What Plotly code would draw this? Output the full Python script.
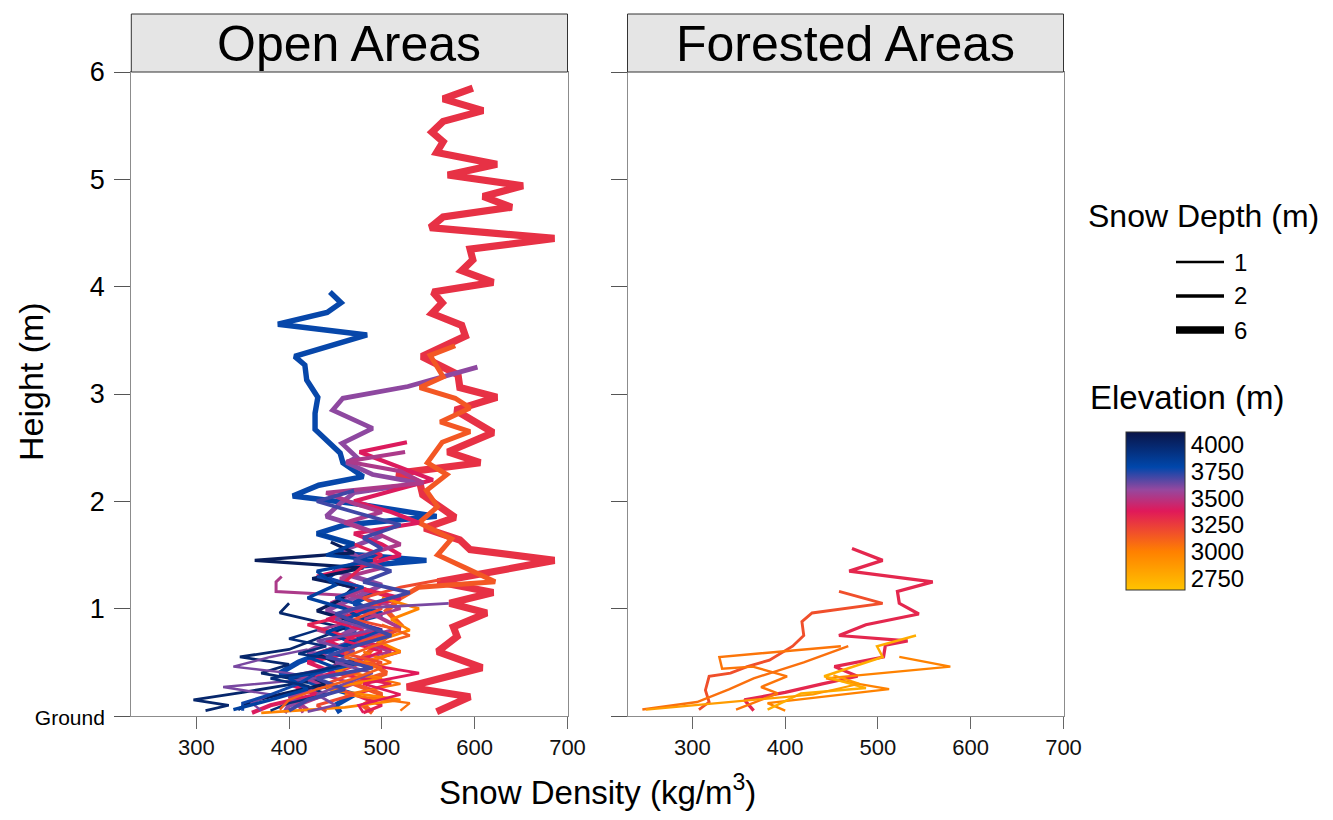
import plotly.graph_objects as go

# ---------------- data ----------------
elev_stops = [2640, 3000, 3380, 3580, 3790, 4120]
elev_colors = ['#ffc400', '#ff8000', '#e0195a', '#95489f', '#0047ab', '#0a1448']
cbar_ticks = [2750, 3000, 3250, 3500, 3750, 4000]
depth_legend = [1, 2, 6]
x_ticks = [300, 400, 500, 600, 700]
y_ticks = [0, 1, 2, 3, 4, 5, 6]
y_ticktext = ['Ground', '1', '2', '3', '4', '5', '6']

open_elevation = [3290, 3780, 3590, 3150, 3390, 3520, 4060, 4000, 3620, 3520, 3350,
                  2980, 3050, 3770, 3830, 3380, 3200, 3950, 3620, 3700, 3120]
open_depth = [5.85, 3.95, 3.25, 3.45, 2.55, 2.46, 1.62, 1.05, 0.62, 1.3, 1.6,
              1.1, 0.6, 1.3, 1.7, 1.0, 1.27, 0.8, 1.05, 2.1, 0.85]
open_height = [
    [5.85, 5.75, 5.64, 5.54, 5.44, 5.35, 5.25, 5.14, 5.04, 4.94, 4.84, 4.74, 4.65, 4.55, 4.45, 4.35, 4.25,
     4.15, 4.04, 3.95, 3.85, 3.75, 3.64, 3.54, 3.35, 3.27, 3.18, 3.06, 2.97, 2.85, 2.64, 2.46, 2.36, 2.26,
     2.17, 2.06, 1.85, 1.75, 1.64, 1.55, 1.45, 1.25, 1.15, 1.05, 0.96, 0.83, 0.74, 0.6, 0.45, 0.27, 0.18, 0.04],
    [3.95, 3.85, 3.76, 3.65, 3.55, 3.35, 3.27, 3.13, 2.97, 2.82, 2.67, 2.53, 2.45, 2.36, 2.23, 2.15, 2.05,
     1.98, 1.86, 1.78, 1.7, 1.6, 1.52, 1.45, 1.38, 1.28, 1.15, 1.05, 0.95, 0.85, 0.72, 0.6, 0.5, 0.4, 0.3,
     0.2, 0.1, 0.03],
    [3.25, 3.16, 3.07, 2.96, 2.85, 2.68, 2.54, 2.41, 2.36, 2.25, 2.17, 2.08, 1.98, 1.86, 1.78, 1.68, 1.55,
     1.45, 1.35, 1.22, 1.1, 0.98, 0.85, 0.72, 0.6, 0.5, 0.4, 0.3, 0.2, 0.1, 0.03],
    [3.45, 3.36, 3.16, 3.06, 2.96, 2.87, 2.74, 2.65, 2.55, 2.45, 2.36, 2.25, 2.1, 1.95, 1.8, 1.65, 1.5,
     1.38, 1.25, 1.2, 1.1, 0.98, 0.85, 0.7, 0.55, 0.4, 0.3, 0.2, 0.1, 0.03],
    [2.55, 2.46, 2.38, 2.28, 2.2, 2.12, 2.0, 1.9, 1.8, 1.7, 1.6, 1.5, 1.4, 1.3, 1.2, 1.1, 1.0, 0.9, 0.8,
     0.7, 0.6, 0.5, 0.4, 0.3, 0.2, 0.1, 0.03],
    [2.46, 2.37, 2.28, 2.17, 2.08, 1.98, 1.9, 1.8, 1.7, 1.6, 1.48, 1.38, 1.28, 1.18, 1.05, 0.95, 0.82, 0.7,
     0.58, 0.48, 0.38, 0.28, 0.18, 0.06],
    [1.62, 1.52, 1.45, 1.38, 1.28, 1.2, 1.08, 0.98, 0.88, 0.78, 0.68, 0.58, 0.48, 0.38, 0.3, 0.22, 0.14, 0.06],
    [1.05, 0.96, 0.9, 0.82, 0.72, 0.62, 0.55, 0.48, 0.4, 0.32, 0.22, 0.15, 0.1, 0.05],
    [0.62, 0.55, 0.46, 0.4, 0.35, 0.27, 0.2, 0.12, 0.05],
    [1.3, 1.25, 1.16, 1.12, 1.0, 0.9, 0.8, 0.7, 0.6, 0.5, 0.4, 0.3, 0.2, 0.1, 0.03],
    [1.6, 1.5, 1.4, 1.25, 1.1, 0.95, 0.85, 0.72, 0.6, 0.5, 0.4, 0.3, 0.2, 0.1, 0.03],
    [1.1, 1.0, 0.9, 0.8, 0.7, 0.6, 0.5, 0.42, 0.35, 0.25, 0.15, 0.08, 0.03],
    [0.6, 0.5, 0.4, 0.3, 0.2, 0.12, 0.05],
    [1.3, 1.2, 1.1, 1.0, 0.9, 0.8, 0.7, 0.6, 0.5, 0.4, 0.3, 0.2, 0.12, 0.05],
    [1.7, 1.6, 1.5, 1.45, 1.35, 1.22, 1.1, 1.0, 0.9, 0.78, 0.68, 0.55, 0.45, 0.35, 0.25, 0.15, 0.06],
    [1.0, 0.9, 0.8, 0.7, 0.6, 0.5, 0.4, 0.3, 0.2, 0.1, 0.03],
    [1.27, 1.2, 1.1, 1.0, 0.9, 0.8, 0.7, 0.58, 0.5, 0.4, 0.3, 0.2, 0.1, 0.04],
    [0.8, 0.72, 0.65, 0.58, 0.5, 0.42, 0.35, 0.28, 0.2, 0.12, 0.05],
    [1.05, 1.0, 0.9, 0.8, 0.7, 0.6, 0.5, 0.4, 0.3, 0.2, 0.1, 0.04],
    [2.1, 2.0, 1.9, 1.78, 1.66, 1.56, 1.45, 1.35, 1.25, 1.15, 1.05, 0.95, 0.85, 0.75, 0.65, 0.55, 0.45,
     0.35, 0.25, 0.15, 0.05],
    [0.85, 0.75, 0.65, 0.55, 0.45, 0.35, 0.25, 0.15, 0.06],
]
open_density = [
    [598, 566, 609, 566, 554, 566, 559, 624, 571, 652, 609, 640, 566, 552, 686, 595, 598,
     586, 620, 555, 565, 554, 586, 590, 543, 560, 582, 584, 624, 579, 620, 571, 606, 516,
     541, 544, 579, 546, 584, 595, 686, 560, 620, 573, 613, 577, 581, 560, 608, 527, 595, 559],
    [444, 456, 441, 388, 484, 406, 417, 419, 431, 428, 428, 444, 455, 458, 480, 432, 404,
     470, 559, 460, 430, 470, 450, 548, 455, 440, 490, 470, 500, 455, 480, 440, 410, 390, 430,
     470, 450, 455],
    [603, 565, 528, 458, 447, 490, 457, 473, 462, 490, 541, 470, 455, 440, 470, 500, 460,
     480, 450, 500, 470, 440, 480, 450, 420, 460, 430, 400, 440, 400, 395],
    [579, 552, 566, 541, 579, 595, 563, 595, 565, 557, 549, 570, 548, 560, 540, 575, 560,
     590, 622, 540, 520, 505, 520, 500, 480, 505, 470, 500, 480, 490],
    [527, 476, 500, 530, 555, 520, 470, 510, 540, 470, 500, 520, 480, 430, 470, 520, 480, 460, 500,
     440, 470, 420, 450, 400, 430, 380, 360],
    [525, 462, 520, 545, 440, 470, 500, 460, 495, 520, 475, 500, 455, 480, 445, 490, 520, 470,
     430, 460, 410, 440, 400, 420],
    [445, 470, 363, 480, 425, 470, 455, 430, 470, 440, 470, 430, 455, 420, 440, 400, 360, 345],
    [400, 390, 420, 460, 430, 400, 347, 400, 370, 420, 350, 297, 335, 310],
    [420, 380, 340, 400, 430, 329, 380, 360, 370],
    [392, 386, 386, 470, 520, 480, 430, 470, 510, 460, 430, 470, 440, 410, 415],
    [470, 500, 480, 460, 510, 470, 420, 470, 520, 480, 450, 510, 470, 500, 480],
    [500, 540, 510, 530, 495, 520, 480, 450, 500, 440, 520, 460, 370],
    [480, 510, 470, 520, 460, 530, 520],
    [430, 480, 450, 490, 460, 500, 470, 440, 480, 430, 410, 380, 350, 350],
    [430, 470, 440, 490, 430, 450, 420, 460, 480, 440, 470, 420, 450, 400, 420, 380, 340],
    [475, 440, 480, 460, 500, 470, 540, 480, 520, 475, 480],
    [563, 520, 480, 500, 470, 520, 480, 460, 500, 470, 440, 470, 430, 440],
    [430, 400, 440, 410, 470, 430, 380, 420, 440, 400, 380],
    [572, 470, 450, 490, 430, 470, 450, 490, 460, 430, 450, 420],
    [470, 430, 470, 520, 480, 500, 470, 510, 480, 530, 490, 450, 480, 510, 470, 440, 490,
     430, 460, 420, 400],
    [500, 530, 490, 460, 500, 470, 430, 400, 390],
]

forest_elevation = [3330, 3180, 3040, 2990, 3060, 2760, 2850]
forest_depth = [1.56, 1.16, 0.65, 0.55, 0.65, 0.75, 0.38]
forest_height = [
    [1.56, 1.45, 1.35, 1.25, 1.16, 1.05, 0.95, 0.85, 0.75, 0.70, 0.66, 0.55, 0.46, 0.37, 0.30, 0.22, 0.15, 0.05],
    [1.16, 1.05, 0.96, 0.88, 0.75, 0.65, 0.52, 0.46, 0.40, 0.37, 0.24, 0.13, 0.06],
    [0.65, 0.55, 0.44, 0.46, 0.37, 0.27, 0.21, 0.06],
    [0.55, 0.46, 0.35, 0.25, 0.12, 0.05],
    [0.65, 0.5, 0.35, 0.25, 0.13, 0.06],
    [0.75, 0.65, 0.55, 0.37, 0.26, 0.21, 0.06],
    [0.38, 0.30, 0.2, 0.12, 0.06],
]
forest_density = [
    [472, 505, 469, 559, 521, 523, 544, 487, 458, 532, 508, 506, 453, 478, 440, 400, 356, 366],
    [458, 505, 429, 418, 420, 408, 383, 359, 341, 318, 314, 318, 307],
    [460, 329, 332, 365, 402, 374, 392, 347],
    [523, 578, 444, 512, 381, 400],
    [468, 420, 366, 340, 305, 246],
    [541, 499, 505, 442, 487, 417, 381],
    [452, 480, 430, 330, 250],
]

# ---------------- helpers ----------------
OFF = 8                      # page body margin in the browser
W, H = 1333 - 2 * OFF, 820 - 2 * OFF
CMIN, CMAX = elev_stops[0], elev_stops[-1]
FONT = 'Arial, Liberation Sans, sans-serif'


def hex2rgb(h):
    h = h.lstrip('#')
    return tuple(int(h[i:i + 2], 16) for i in (0, 2, 4))


def elev_color(e):
    e = max(CMIN, min(CMAX, e))
    for i in range(len(elev_stops) - 1):
        if elev_stops[i] <= e <= elev_stops[i + 1]:
            t = (e - elev_stops[i]) / (elev_stops[i + 1] - elev_stops[i])
            a, b = hex2rgb(elev_colors[i]), hex2rgb(elev_colors[i + 1])
            c = [round(a[k] + (b[k] - a[k]) * t) for k in range(3)]
            return 'rgb(%d,%d,%d)' % tuple(c)
    return elev_colors[-1]


def lw(d):
    return 1.8 + 0.92 * d


def px(x):
    return (x - OFF) / W


def py(y):
    return 1 - (y - OFF) / H


colorscale = [[(s - CMIN) / (CMAX - CMIN), c] for s, c in zip(elev_stops, elev_colors)]

fig = go.Figure()

for e, d, hh, rho in zip(open_elevation, open_depth, open_height, open_density):
    fig.add_trace(go.Scatter(x=rho, y=hh, mode='lines', xaxis='x', yaxis='y',
                             line=dict(color=elev_color(e), width=lw(d)),
                             showlegend=False, hoverinfo='skip'))

for e, d, hh, rho in zip(forest_elevation, forest_depth, forest_height, forest_density):
    fig.add_trace(go.Scatter(x=rho, y=hh, mode='lines', xaxis='x2', yaxis='y2',
                             line=dict(color=elev_color(e), width=lw(d)),
                             showlegend=False, hoverinfo='skip'))

# colourbar carrier
fig.add_trace(go.Scatter(
    x=[None], y=[None], mode='markers', xaxis='x2', yaxis='y2', showlegend=False, hoverinfo='skip',
    marker=dict(color=[3000], cmin=CMIN, cmax=CMAX, colorscale=colorscale, showscale=True,
                colorbar=dict(x=px(1126), xanchor='left', y=py(511), yanchor='middle',
                              len=158 / H, lenmode='fraction', thickness=59, thicknessmode='pixels',
                              outlinecolor='#333333', outlinewidth=1, ticks='', tickvals=cbar_ticks,
                              tickfont=dict(family=FONT, size=24, color='#000000'),
                              xpad=0, ypad=0))))

xd1 = [px(131.3), px(567.5)]
xd2 = [px(627.5), px(1063.5)]
yd = [py(716), py(72)]

axis_common = dict(range=[230, 700], tickvals=x_ticks, showline=True, linecolor='#8c8c8c',
                   linewidth=1, mirror=True, ticks='outside', ticklen=12, tickcolor='#666666',
                   showgrid=False, zeroline=False, fixedrange=True,
                   tickfont=dict(family=FONT, size=22, color='#111111'))
y_common = dict(range=[0, 6], tickvals=y_ticks, showline=True, linecolor='#8c8c8c', linewidth=1,
                mirror=True, ticks='outside', ticklen=16, tickcolor='#555555', showgrid=False,
                zeroline=False, fixedrange=True)

fig.update_layout(
    width=W, height=H, margin=dict(l=0, r=0, t=0, b=0, autoexpand=False),
    paper_bgcolor='white', plot_bgcolor='white', showlegend=False,
    xaxis=dict(domain=xd1, anchor='y', **axis_common),
    xaxis2=dict(domain=xd2, anchor='y2', **axis_common),
    yaxis=dict(domain=yd, anchor='x', ticktext=['<span style="font-size:21px">Ground</span>'] + y_ticktext[1:],
               tickfont=dict(family=FONT, size=27, color='#000000'), ticklabelstandoff=4, **y_common),
    yaxis2=dict(domain=yd, anchor='x2', showticklabels=False, **y_common),
)

shapes = []
annotations = []
# facet strips
for (x0, x1), label in zip([xd1, xd2], ['Open Areas', 'Forested Areas']):
    shapes.append(dict(type='rect', xref='paper', yref='paper', x0=x0, x1=x1, y0=py(72), y1=py(14),
                       fillcolor='#e5e5e5', line=dict(color='#333333', width=1), layer='above'))
    annotations.append(dict(xref='paper', yref='paper', x=(x0 + x1) / 2, y=py(44), text=label,
                            showarrow=False, xanchor='center', yanchor='middle',
                            font=dict(family=FONT, size=50, color='#000000')))

# axis titles
annotations.append(dict(xref='paper', yref='paper', x=px(31), y=py(382), text='Height (m)', textangle=-90,
                        showarrow=False, xanchor='center', yanchor='middle',
                        font=dict(family=FONT, size=34, color='#000000')))
annotations.append(dict(xref='paper', yref='paper', x=px(597), y=py(790),
                        text='Snow Density (kg/m<sup>3</sup>)', showarrow=False,
                        xanchor='center', yanchor='middle',
                        font=dict(family=FONT, size=33, color='#000000')))

# size legend
annotations.append(dict(xref='paper', yref='paper', x=px(1086), y=py(216), text='Snow Depth (m)',
                        showarrow=False, xanchor='left', yanchor='middle',
                        font=dict(family=FONT, size=32, color='#000000')))
for i, d in enumerate(depth_legend):
    yy = 262 + 34 * i
    shapes.append(dict(type='line', xref='paper', yref='paper', x0=px(1176), x1=px(1224),
                       y0=py(yy), y1=py(yy), line=dict(color='#000000', width=lw(d))))
    annotations.append(dict(xref='paper', yref='paper', x=px(1232), y=py(yy), text=str(d),
                            showarrow=False, xanchor='left', yanchor='middle',
                            font=dict(family=FONT, size=24, color='#000000')))

# colourbar title
annotations.append(dict(xref='paper', yref='paper', x=px(1088), y=py(398), text='Elevation (m)',
                        showarrow=False, xanchor='left', yanchor='middle',
                        font=dict(family=FONT, size=33, color='#000000')))

fig.update_layout(shapes=shapes, annotations=annotations)
fig.write_html('out.html')
